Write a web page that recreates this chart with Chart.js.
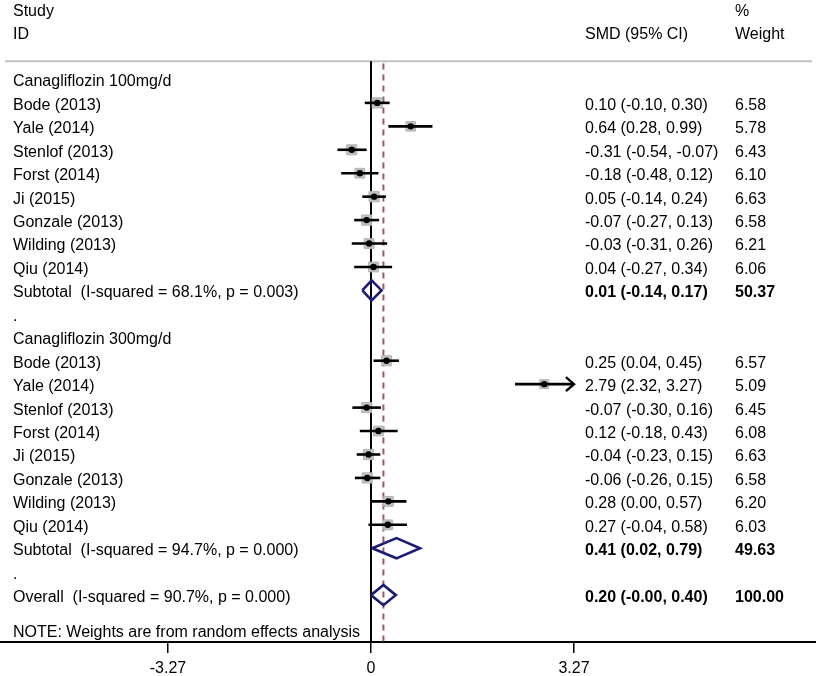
<!DOCTYPE html>
<html lang="en">
<head>
  <meta charset="UTF-8" />
  <title>Forest plot - Canagliflozin SMD</title>
  <style>
    html, body { margin: 0; padding: 0; background: #fff; }
    #forest { display: block; }
  </style>
</head>
<body>
  <canvas id="forest" width="816" height="676"></canvas>

  <script src="https://cdn.jsdelivr.net/npm/chart.js"></script>
  <script>
    // ---- data ----
    const studies = ['Bode (2013)', 'Yale (2014)', 'Stenlof (2013)', 'Forst (2014)',
                     'Ji (2015)', 'Gonzale (2013)', 'Wilding (2013)', 'Qiu (2014)'];

    const smd100 = [0.10, 0.64, -0.31, -0.18, 0.05, -0.07, -0.03, 0.04];
    const lo100  = [-0.10, 0.28, -0.54, -0.48, -0.14, -0.27, -0.31, -0.27];
    const hi100  = [0.30, 0.99, -0.07, 0.12, 0.24, 0.13, 0.26, 0.34];
    const w100   = [6.58, 5.78, 6.43, 6.10, 6.63, 6.58, 6.21, 6.06];

    const smd300 = [0.25, 2.79, -0.07, 0.12, -0.04, -0.06, 0.28, 0.27];
    const lo300  = [0.04, 2.32, -0.30, -0.18, -0.23, -0.26, 0.00, -0.04];
    const hi300  = [0.45, 3.27, 0.16, 0.43, 0.15, 0.15, 0.57, 0.58];
    const w300   = [6.57, 5.09, 6.45, 6.08, 6.63, 6.58, 6.20, 6.03];

    // [estimate, lower, upper]
    const sub100  = [0.01, -0.14, 0.17];
    const sub300  = [0.41, 0.02, 0.79];
    const overall = [0.20, -0, 0.40];
    const subWeights = [50.37, 49.63, 100.00];
    const i2 = ['68.1%', '94.7%', '90.7%'];
    const pvals = ['0.003', '0.000', '0.000'];

    const groups = ['Canagliflozin 100mg/d', 'Canagliflozin 300mg/d'];
    const tickVals = [-3.27, 0, 3.27];
    const tickLabels = ['-3.27', '0', '3.27'];
    const axisLimit = 3.27;   // CIs beyond this get an arrow

    // ---- layout helpers ----
    const fmt = v => ((v < 0 || Object.is(v, -0)) ? '-' : '') + Math.abs(v).toFixed(2);
    const ciText = (e, l, h) => fmt(e) + ' (' + fmt(l) + ', ' + fmt(h) + ')';

    const tableRows = [];
    const studyRows = [];   // {row, e, l, h, w}
    const diamonds = [];    // {row, e, l, h}

    tableRows.push({ row: -3, label: 'Study', weight: '%' });
    tableRows.push({ row: -2, label: 'ID', ci: 'SMD (95% CI)', weight: 'Weight' });

    let r = 0;
    [[smd100, lo100, hi100, w100, sub100], [smd300, lo300, hi300, w300, sub300]].forEach((g, gi) => {
      const [e, l, h, w, s] = g;
      tableRows.push({ row: r, label: groups[gi] });
      r++;
      studies.forEach((name, i) => {
        tableRows.push({ row: r, label: name, ci: ciText(e[i], l[i], h[i]), weight: w[i].toFixed(2) });
        studyRows.push({ row: r, e: e[i], l: l[i], h: h[i], w: w[i] });
        r++;
      });
      tableRows.push({ row: r, label: 'Subtotal  (I-squared = ' + i2[gi] + ', p = ' + pvals[gi] + ')',
                       ci: ciText(s[0], s[1], s[2]), weight: subWeights[gi].toFixed(2), bold: true });
      diamonds.push({ row: r, e: s[0], l: s[1], h: s[2] });
      r++;
      tableRows.push({ row: r, label: '.' });
      r++;
    });
    tableRows.push({ row: r, label: 'Overall  (I-squared = ' + i2[2] + ', p = ' + pvals[2] + ')',
                     ci: ciText(overall[0], overall[1], overall[2]), weight: subWeights[2].toFixed(2), bold: true });
    diamonds.push({ row: r, e: overall[0], l: overall[1], h: overall[2] });
    tableRows.push({ row: r + 1.5, label: 'NOTE: Weights are from random effects analysis' });

    const topRule = -0.78;
    const yMax = 24;

    // ---- datasets ----
    const datasets = [];

    // study points
    datasets.push({
      type: 'scatter',
      data: studyRows.map(s => ({ x: s.e, y: s.row })),
      pointRadius: 3.2, pointBackgroundColor: '#000', pointBorderWidth: 0,
      order: 0
    });

    // CI lines
    studyRows.forEach(s => {
      datasets.push({
        type: 'line',
        data: [{ x: s.l, y: s.row }, { x: Math.min(s.h, axisLimit), y: s.row }],
        borderColor: '#000', borderWidth: 2.6, pointRadius: 0, fill: false,
        order: 1
      });
      if (s.h >= axisLimit) {
        datasets.push({
          type: 'line',
          data: [{ x: axisLimit - 0.13, y: s.row - 0.3 }, { x: axisLimit, y: s.row }, { x: axisLimit - 0.13, y: s.row + 0.3 }],
          borderColor: '#000', borderWidth: 2.4, pointRadius: 0, fill: false,
          order: 1
        });
      }
    });

    // weight squares
    datasets.push({
      type: 'scatter',
      data: studyRows.map(s => ({ x: s.e, y: s.row })),
      pointStyle: 'rect',
      pointRadius: studyRows.map(s => 2.8 * Math.sqrt(s.w)),
      pointBackgroundColor: '#c0c0c0', pointBorderColor: '#b4b4b4', pointBorderWidth: 1,
      order: 2
    });

    // pooled diamonds
    diamonds.forEach(d => {
      datasets.push({
        type: 'line',
        data: [{ x: d.l, y: d.row }, { x: d.e, y: d.row - 0.43 }, { x: d.h, y: d.row },
               { x: d.e, y: d.row + 0.43 }, { x: d.l, y: d.row }],
        borderColor: '#1c1c78', borderWidth: 2.6, pointRadius: 0, fill: false, tension: 0,
        order: 1
      });
    });

    // no-effect line and overall estimate line
    datasets.push({
      type: 'line',
      data: [{ x: 0, y: topRule }, { x: 0, y: yMax }],
      borderColor: '#000', borderWidth: 2, pointRadius: 0, fill: false,
      order: 4
    });
    datasets.push({
      type: 'line',
      data: [{ x: overall[0], y: topRule + 0.1 }, { x: overall[0], y: yMax }],
      borderColor: '#a3566a', borderWidth: 2, borderDash: [6, 5], pointRadius: 0, fill: false,
      order: 3
    });

    // ---- text columns + header rule ----
    const FONT = '"Liberation Sans", Arial, sans-serif';
    const tablePlugin = {
      id: 'tablePlugin',
      beforeDatasetsDraw(chart) {
        const { ctx, chartArea, scales } = chart;
        const py = scales.y.getPixelForValue(topRule);
        ctx.save();
        ctx.strokeStyle = '#c2c2c2';
        ctx.lineWidth = 2;
        ctx.beginPath();
        ctx.moveTo(chartArea.left + 5, py);
        ctx.lineTo(chartArea.right - 4, py);
        ctx.stroke();
        ctx.restore();
      },
      afterDatasetsDraw(chart) {
        const { ctx, scales } = chart;
        ctx.save();
        ctx.fillStyle = '#000';
        ctx.textBaseline = 'middle';
        ctx.textAlign = 'left';
        tableRows.forEach(t => {
          const py = scales.y.getPixelForValue(t.row) + 2.5;
          ctx.font = '16px ' + FONT;
          if (t.label) ctx.fillText(t.label, 13, py);
          if (t.bold) ctx.font = 'bold 16px ' + FONT;
          if (t.ci) ctx.fillText(t.ci, 585, py);
          if (t.weight) ctx.fillText(t.weight, 735, py);
        });
        ctx.restore();
      }
    };

    new Chart(document.getElementById('forest'), {
      type: 'scatter',
      data: { datasets },
      plugins: [tablePlugin],
      options: {
        responsive: false,
        animation: false,
        layout: { padding: 0, autoPadding: false },
        plugins: { legend: { display: false }, tooltip: { enabled: false } },
        scales: {
          x: {
            type: 'linear',
            min: -5.976,
            max: 7.168,
            afterBuildTicks: scale => { scale.ticks = tickVals.map(v => ({ value: v })); },
            afterFit: scale => { scale.height = 34; },
            ticks: {
              callback: (v, i) => tickLabels[i],
              color: '#000',
              padding: 6,
              maxRotation: 0,
              autoSkip: false,
              font: { family: FONT, size: 16 }
            },
            grid: { drawOnChartArea: false, drawTicks: true, tickLength: 11, color: '#000', lineWidth: 1.5 },
            border: { display: true, color: '#000', width: 2 }
          },
          y: {
            type: 'linear',
            display: false,
            reverse: true,
            min: -3.39,
            max: yMax
          }
        }
      }
    });
  </script>
</body>
</html>
